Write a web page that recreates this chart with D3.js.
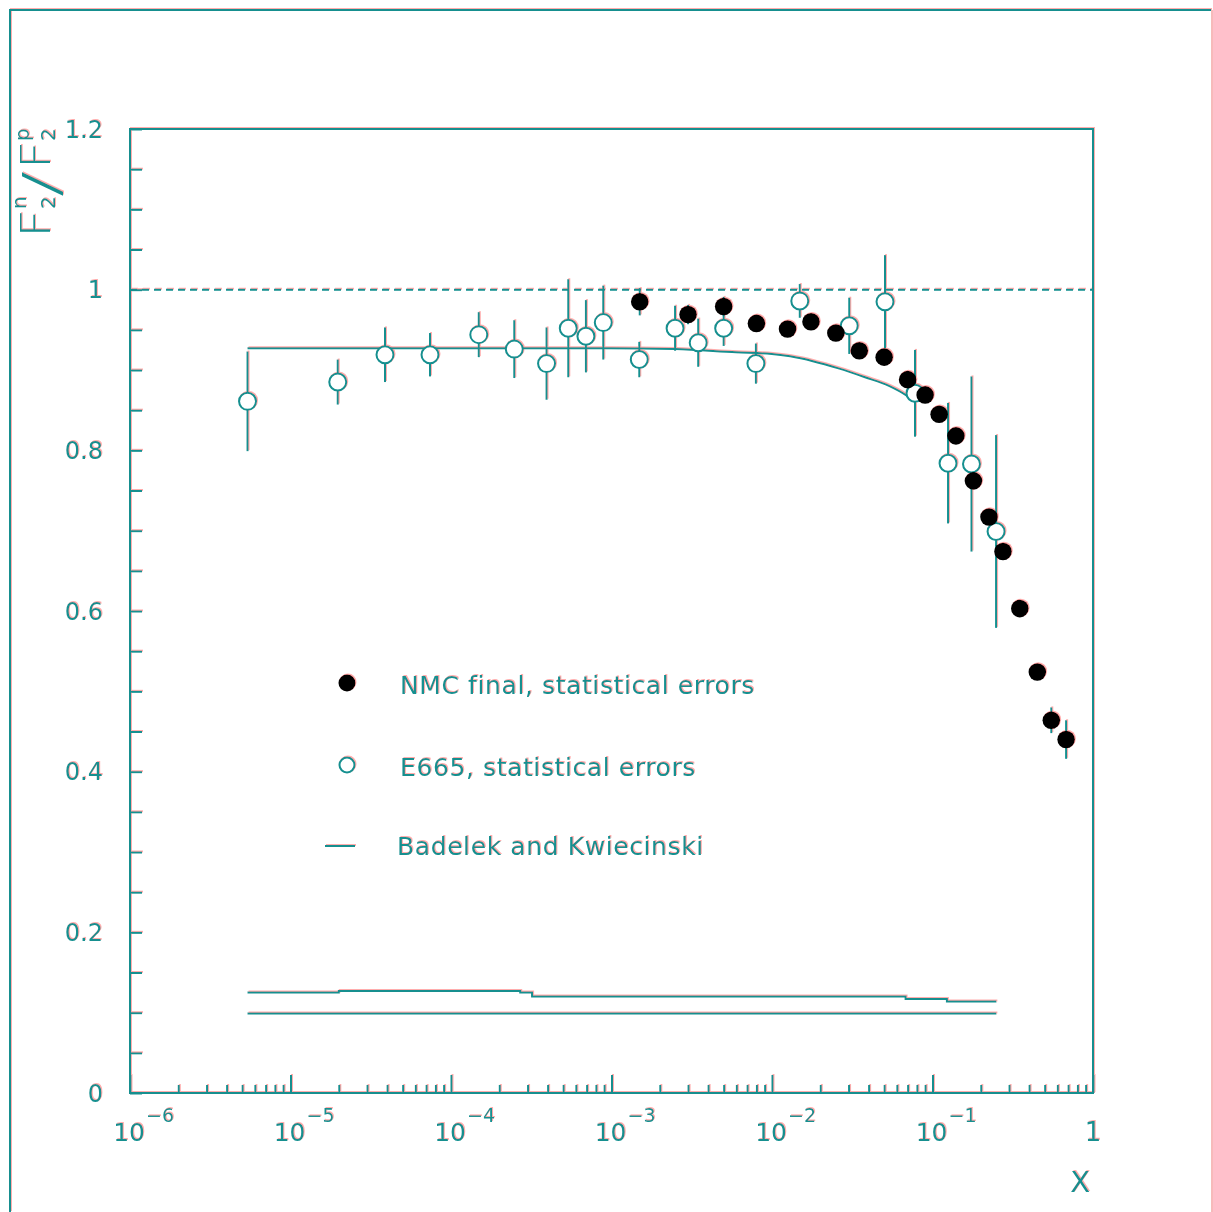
<!DOCTYPE html>
<html>
<head>
<meta charset="utf-8">
<script src="https://cdn.jsdelivr.net/npm/d3@7/dist/d3.min.js"></script>
<style>
  html, body { margin: 0; padding: 0; background: #fff; }
  svg { display: block; }
  text { font-family: "DejaVu Sans", sans-serif; fill: #138f8f; }
</style>
</head>
<body>
<svg id="chart" width="1213" height="1212"></svg>
<script>
// NMC final F2n/F2p ratio: [x, ratio, statistical error]
const nmcX   = [0.0015, 0.003, 0.005, 0.008, 0.0125, 0.0175, 0.025, 0.035, 0.05, 0.07,
                0.09, 0.11, 0.14, 0.18, 0.225, 0.275, 0.35, 0.45, 0.55, 0.68];
const nmcR   = [0.985, 0.969, 0.979, 0.958, 0.951, 0.960, 0.946, 0.924, 0.916, 0.888,
                0.869, 0.845, 0.818, 0.762, 0.717, 0.674, 0.603, 0.524, 0.464, 0.440];
const nmcErr = [0.017, 0.012, 0.012, 0.010, 0.008, 0.008, 0.008, 0.008, 0.008, 0.008,
                0.008, 0.008, 0.008, 0.008, 0.008, 0.008, 0.008, 0.010, 0.016, 0.024];

// E665 ratio with statistical errors
const e665X   = [5.4e-6, 1.97e-5, 3.88e-5, 7.4e-5, 1.49e-4, 2.48e-4, 3.94e-4, 5.38e-4, 6.93e-4, 8.89e-4,
                 1.49e-3, 2.49e-3, 3.47e-3, 5.0e-3, 7.94e-3, 1.49e-2, 3.03e-2, 5.06e-2, 7.78e-2,
                 0.125, 0.175, 0.249];
const e665R   = [0.861, 0.885, 0.919, 0.919, 0.944, 0.926, 0.908, 0.952, 0.942, 0.959,
                 0.913, 0.952, 0.934, 0.952, 0.908, 0.986, 0.955, 0.985, 0.871,
                 0.784, 0.783, 0.699];
const e665Err = [0.062, 0.028, 0.034, 0.027, 0.028, 0.036, 0.045, 0.061, 0.045, 0.046,
                 0.022, 0.028, 0.030, 0.022, 0.025, 0.021, 0.035, 0.058, 0.054,
                 0.075, 0.109, 0.120];

// Badelek and Kwiecinski model curve
const modelX = [5.4e-6, 1e-4, 1e-3, 2.5e-3, 6e-3, 1e-2, 1.3e-2, 1.8e-2, 2.6e-2, 3.8e-2, 5.4e-2, 6.8e-2, 7.8e-2];
const modelR = [0.927, 0.927, 0.927, 0.926, 0.922, 0.920, 0.917, 0.911, 0.902, 0.891, 0.880, 0.869, 0.860];

// Systematic error bands (step lines)
const sysUpperX = [5.4e-6, 2.0e-5, 2.7e-4, 3.2e-4, 6.8e-2, 0.123, 0.25];
const sysUpperV = [0.125, 0.127, 0.125, 0.120, 0.117, 0.114, 0.114];
const sysLowerX = [5.4e-6, 0.25];
const sysLowerV = [0.099, 0.099];

// Axis tick labels
const yTickValues = [0, 0.2, 0.4, 0.6, 0.8, 1, 1.2];
const yTickLabels = ["0", "0.2", "0.4", "0.6", "0.8", "1", "1.2"];
const xDecades    = [1e-6, 1e-5, 1e-4, 1e-3, 1e-2, 1e-1, 1];
const xExponents  = ["\u22126", "\u22125", "\u22124", "\u22123", "\u22122", "\u22121", null];

const legendLabels = ["NMC final, statistical errors", "E665, statistical errors", "Badelek and Kwiecinski"];

const INK = "#138f8f";
const svg = d3.select("#chart");

// red colour fringe offset from every stroke
const defs = svg.append("defs");
const f = defs.append("filter").attr("id", "fringe")
  .attr("filterUnits", "userSpaceOnUse")
  .attr("x", 0).attr("y", 0).attr("width", 1213).attr("height", 1212);
f.append("feFlood").attr("flood-color", "#ff6a6a").attr("flood-opacity", 0.55);
f.append("feComposite").attr("in2", "SourceAlpha").attr("operator", "in");
f.append("feOffset").attr("dx", 1).attr("dy", -1).attr("result", "red");
const fm = f.append("feMerge");
fm.append("feMergeNode").attr("in", "red");
fm.append("feMergeNode").attr("in", "SourceGraphic");

const root = svg.append("g").attr("filter", "url(#fringe)");

// page frame
root.append("path")
  .attr("d", "M10,1230 L10,10 L1211,10")
  .attr("fill", "none").attr("stroke", INK).attr("stroke-width", 2);
svg.append("line").attr("x1", 1212).attr("x2", 1212).attr("y1", 10).attr("y2", 1212)
  .attr("stroke", "#f5a3a3").attr("stroke-width", 1.5);

const plotL = 130, plotR = 1093, plotT = 129, plotB = 1093;
const x = d3.scaleLog().domain([1e-6, 1]).range([plotL, plotR]);
const y = d3.scaleLinear().domain([0, 1.2]).range([plotB, plotT]);

// y ticks every 0.05, drawn inward
const yTicks = d3.range(0, 25).map(i => i * 0.05);
root.append("g").attr("transform", `translate(${plotL},0)`)
  .call(d3.axisLeft(y).tickValues(yTicks).tickSize(-12).tickFormat(""))
  .call(g => g.select(".domain").remove())
  .call(g => g.selectAll("line").attr("stroke", INK).attr("stroke-width", 2));

// y tick labels
root.append("g").selectAll("text").data(yTickValues).join("text")
  .attr("x", 103).attr("y", d => y(d) + 8.5)
  .attr("text-anchor", "end").attr("font-size", 24)
  .text((d, i) => yTickLabels[i]);

// x ticks: decades long, 2..9 short
const xMinor = [];
for (let e = -6; e < 0; e++) for (let k = 2; k <= 9; k++) xMinor.push(k * Math.pow(10, e));
root.append("g").attr("transform", `translate(0,${plotB})`)
  .call(d3.axisBottom(x).tickValues(xMinor).tickSize(-8).tickFormat(""))
  .call(g => g.select(".domain").remove())
  .call(g => g.selectAll("line").attr("stroke", INK).attr("stroke-width", 2));
root.append("g").attr("transform", `translate(0,${plotB})`)
  .call(d3.axisBottom(x).tickValues(xDecades).tickSize(-18).tickFormat(""))
  .call(g => g.select(".domain").remove())
  .call(g => g.selectAll("line").attr("stroke", INK).attr("stroke-width", 2));

// x tick labels as 10 with exponent
const xl = root.append("g");
xDecades.forEach((d, i) => {
  const px = x(d);
  if (xExponents[i] === null) {
    xl.append("text").attr("x", px).attr("y", 1141).attr("text-anchor", "middle")
      .attr("font-size", 26).text("1");
  } else {
    xl.append("text").attr("x", px + 15).attr("y", 1141).attr("text-anchor", "end")
      .attr("font-size", 25).text("10");
    xl.append("text").attr("x", px + 16).attr("y", 1122).attr("text-anchor", "start")
      .attr("font-size", 19).text(xExponents[i]);
  }
});

// axis titles
root.append("text").attr("x", 1090).attr("y", 1192).attr("text-anchor", "end")
  .attr("font-size", 29).text("X");

const yt = root.append("g").attr("transform", "translate(50,238) rotate(-90)");
yt.append("text").attr("x", 0).attr("y", 0).attr("font-size", 40).attr("font-weight", 300)
  .attr("textLength", 29).attr("lengthAdjust", "spacingAndGlyphs").text("F");
yt.append("text").attr("x", 29).attr("y", -24).attr("font-size", 20).text("n");
yt.append("text").attr("x", 29).attr("y", 5).attr("font-size", 20).text("2");
yt.append("text").attr("x", 41).attr("y", 8).attr("font-size", 50).attr("font-weight", 300)
  .attr("textLength", 26).attr("lengthAdjust", "spacingAndGlyphs").text("/");
yt.append("text").attr("x", 69).attr("y", 0).attr("font-size", 40).attr("font-weight", 300)
  .attr("textLength", 28).attr("lengthAdjust", "spacingAndGlyphs").text("F");
yt.append("text").attr("x", 97).attr("y", -21).attr("font-size", 20).text("p");
yt.append("text").attr("x", 97).attr("y", 5).attr("font-size", 20).text("2");

// reference line at ratio 1
root.append("line")
  .attr("x1", plotL).attr("x2", plotR).attr("y1", y(1)).attr("y2", y(1))
  .attr("stroke", INK).attr("stroke-width", 2).attr("stroke-dasharray", "7,5");

// systematic error bands
const stepLine = d3.line().x(d => x(d[0])).y(d => y(d[1])).curve(d3.curveStepAfter);
root.append("path").datum(d3.zip(sysUpperX, sysUpperV)).attr("d", stepLine)
  .attr("fill", "none").attr("stroke", INK).attr("stroke-width", 2);
root.append("path").datum(d3.zip(sysLowerX, sysLowerV)).attr("d", stepLine)
  .attr("fill", "none").attr("stroke", INK).attr("stroke-width", 2);

// model curve
const curveLine = d3.line().x(d => x(d[0])).y(d => y(d[1])).curve(d3.curveMonotoneX);
root.append("path").datum(d3.zip(modelX, modelR)).attr("d", curveLine)
  .attr("fill", "none").attr("stroke", INK).attr("stroke-width", 2);

// E665 error bars
const e665 = d3.zip(e665X, e665R, e665Err);
root.append("g").selectAll("line").data(e665).join("line")
  .attr("x1", d => x(d[0])).attr("x2", d => x(d[0]))
  .attr("y1", d => y(d[1] - d[2])).attr("y2", d => y(d[1] + d[2]))
  .attr("stroke", INK).attr("stroke-width", 2);

// NMC error bars
const nmc = d3.zip(nmcX, nmcR, nmcErr);
root.append("g").selectAll("line").data(nmc).join("line")
  .attr("x1", d => x(d[0])).attr("x2", d => x(d[0]))
  .attr("y1", d => y(d[1] - d[2])).attr("y2", d => y(d[1] + d[2]))
  .attr("stroke", INK).attr("stroke-width", 2);

// E665 open markers
root.append("g").selectAll("circle").data(e665).join("circle")
  .attr("cx", d => x(d[0])).attr("cy", d => y(d[1])).attr("r", 8.5)
  .attr("fill", "#fff").attr("stroke", INK).attr("stroke-width", 2);

// NMC filled markers
root.append("g").selectAll("circle").data(nmc).join("circle")
  .attr("cx", d => x(d[0])).attr("cy", d => y(d[1])).attr("r", 8.8)
  .attr("fill", "#000");

// plot frame
root.append("rect")
  .attr("x", plotL).attr("y", plotT).attr("width", plotR - plotL).attr("height", plotB - plotT)
  .attr("fill", "none").attr("stroke", INK).attr("stroke-width", 2);

// legend
const lg = root.append("g");
lg.append("circle").attr("cx", 347).attr("cy", 683).attr("r", 8.5).attr("fill", "#000");
lg.append("circle").attr("cx", 347).attr("cy", 765).attr("r", 7.5)
  .attr("fill", "#fff").attr("stroke", INK).attr("stroke-width", 2);
lg.append("line").attr("x1", 325).attr("x2", 355).attr("y1", 846).attr("y2", 846)
  .attr("stroke", INK).attr("stroke-width", 2);
const legendY = [694, 776, 855];
const legendX = [400, 400, 397];
lg.selectAll("text").data(legendLabels).join("text")
  .attr("x", (d, i) => legendX[i]).attr("y", (d, i) => legendY[i])
  .attr("font-size", 25).attr("letter-spacing", 0.6)
  .text(d => d);
</script>
</body>
</html>
